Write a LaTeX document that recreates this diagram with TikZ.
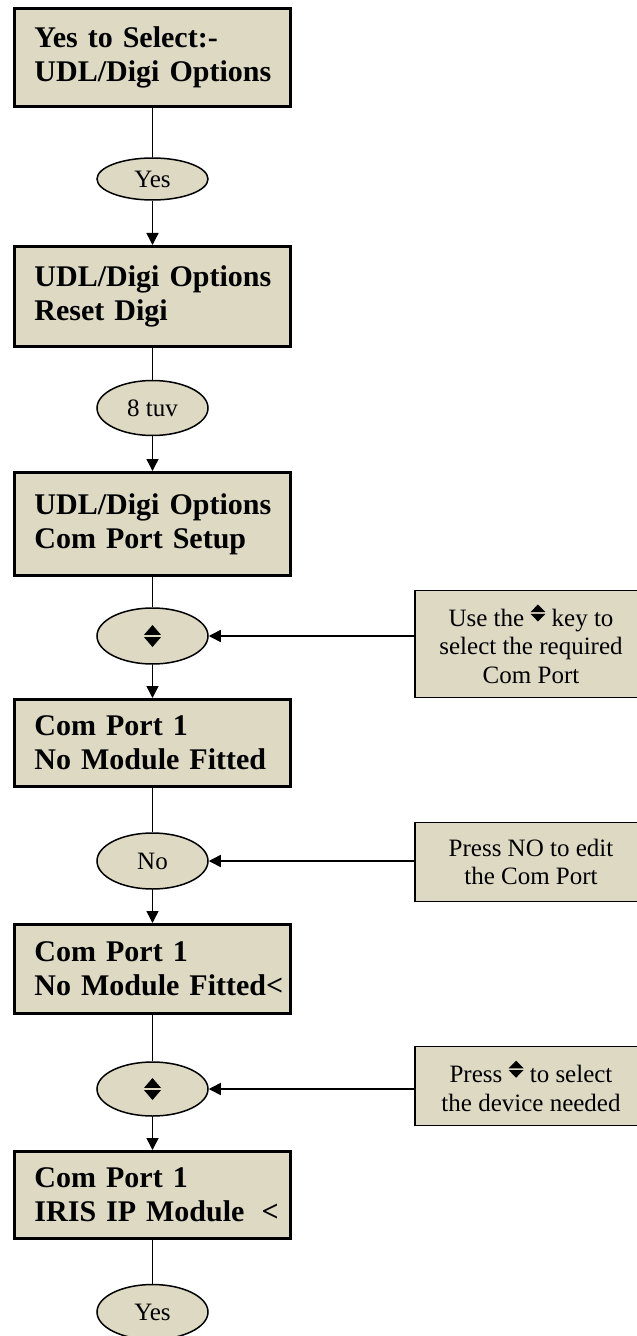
\documentclass[tikz,border=0pt]{standalone}
\usepackage{fontspec}
\setmainfont{Liberation Serif}
\usetikzlibrary{shapes.geometric,arrows.meta}
\definecolor{boxfill}{HTML}{DDD9C3}
\newcommand{\updn}[2]{\tikz[x=#1bp,y=#2bp]{\fill (0,0.55)--(1,0.55)--(0.5,1)--cycle; \fill (0,0.45)--(1,0.45)--(0.5,0)--cycle;}}
\newcommand{\updnT}{\raisebox{5bp}{\updn{15}{17}}}
\newcommand{\scrl}[1]{\mbox{#1}}
\begin{document}
\begin{tikzpicture}[x=1bp,y=-1bp,
 screen/.style={draw, line width=3bp, fill=boxfill, rectangle, minimum width=276bp, inner xsep=0pt, text width=236bp, align=left, font=\fontsize{30bp}{34bp}\selectfont\bfseries},
 key/.style={draw, line width=1.5bp, fill=boxfill, ellipse, inner sep=0pt, font=\fontsize{25bp}{28bp}\selectfont},
 note/.style={draw, line width=1.5bp, fill=boxfill, rectangle, minimum width=232bp, inner sep=0pt, align=center, font=\fontsize{25bp}{28.4bp}\selectfont},
 link/.style={line width=1.5bp},
 arr/.style={line width=1.5bp, -{Triangle[length=12bp,width=12bp]}}]
\useasboundingbox (0,0) rectangle (637,1336);
\clip (0,0) rectangle (637,1336);
% screens
\node[screen, minimum height=98bp] (b1) at (152.5,57.5) {\scrl{Yes to Select:-}\\\scrl{UDL/Digi Options}};
\node[screen, minimum height=100bp] (b2) at (152.5,296.5) {\scrl{UDL/Digi Options}\\\scrl{Reset Digi}};
\node[screen, minimum height=103bp] (b3) at (152.5,524) {\scrl{UDL/Digi Options}\\\scrl{Com Port Setup}};
\node[screen, minimum height=87bp] (b4) at (152.5,743) {\scrl{Com Port 1}\\\scrl{No Module Fitted}};
\node[screen, minimum height=89bp] (b5) at (152.5,969) {\scrl{Com Port 1}\\\scrl{No Module Fitted<}};
\node[screen, minimum height=87bp] (b6) at (152.5,1195) {\scrl{Com Port 1}\\\scrl{IRIS IP Module\hspace{17bp}<}};
% keys
\node[key, minimum width=111bp, minimum height=42bp] (e1) at (152.5,179) {Yes};
\node[key, minimum width=111bp, minimum height=55bp] (e2) at (152.5,408) {8 tuv};
\node[key, minimum width=111bp, minimum height=56bp] (e3) at (152.5,636) {\updn{17}{22}};
\node[key, minimum width=111bp, minimum height=56bp] (e4) at (152.5,861) {No};
\node[key, minimum width=111bp, minimum height=54bp] (e5) at (152.5,1089) {\updn{17}{22}};
\node[key, minimum width=111bp, minimum height=55bp] (e6) at (152.5,1312) {Yes};
% notes
\node[note, minimum height=107bp] (r1) at (531,644) {Use the \updnT{} key to\\select the required\\Com Port};
\node[note, minimum height=79bp] (r2) at (531,862) {Press NO to edit\\the Com Port};
\node[note, minimum height=79bp] (r3) at (531,1086) {Press \updnT{} to select\\the device needed};
% connectors
\draw[link] (b1.south) -- (e1.north);
\draw[arr] (e1.south) -- (b2.north);
\draw[link] (b2.south) -- (e2.north);
\draw[arr] (e2.south) -- (b3.north);
\draw[link] (b3.south) -- (e3.north);
\draw[arr] (e3.south) -- (b4.north);
\draw[link] (b4.south) -- (e4.north);
\draw[arr] (e4.south) -- (b5.north);
\draw[link] (b5.south) -- (e5.north);
\draw[arr] (e5.south) -- (b6.north);
\draw[link] (b6.south) -- (e6.north);
\draw[arr] (r1.west |- e3.east) -- (e3.east);
\draw[arr] (r2.west |- e4.east) -- (e4.east);
\draw[arr] (r3.west |- e5.east) -- (e5.east);
\end{tikzpicture}
\end{document}
